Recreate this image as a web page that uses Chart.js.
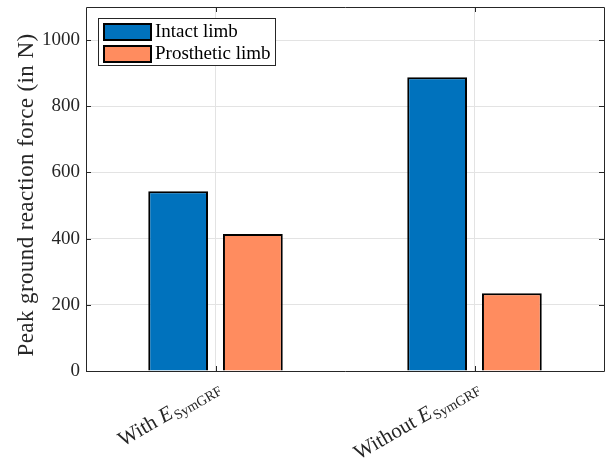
<!DOCTYPE html>
<html>
<head>
<meta charset="utf-8">
<script src="https://cdn.jsdelivr.net/npm/chart.js@4"></script>
<style>
  html, body { margin: 0; padding: 0; background: #ffffff; }
  #wrap { width: 611px; height: 469px; }
</style>
</head>
<body>
<div id="wrap"><canvas id="c" width="611" height="469"></canvas></div>
<script>
// Peak ground reaction force per limb, with and without the symmetry term
const categories = ['With E_SymGRF', 'Without E_SymGRF'];
const seriesNames = ['Intact limb', 'Prosthetic limb'];
const intactLimb = [543, 888];
const prostheticLimb = [414, 235];
const yTicks = [0, 200, 400, 600, 800, 1000];
const yAxisTitle = 'Peak ground reaction force (in N)';

const SERIF = '"Liberation Serif", "DejaVu Serif", serif';
const INK = '#262626';
const COLORS = ['#0072BD', '#FF8C5F'];

// Axes box, inward tick marks, axis title, legend and the mixed-style category labels
const decorations = {
  id: 'decorations',
  afterDraw(chart) {
    const { ctx, chartArea: a, scales } = chart;
    const L = a.left, R = a.right, T = a.top, B = a.bottom;
    ctx.save();

    // box
    ctx.strokeStyle = INK;
    ctx.lineWidth = 1;
    ctx.beginPath();
    ctx.moveTo(L + 0.5, B + 0.5); ctx.lineTo(L + 0.5, T + 0.5);
    ctx.lineTo(R + 0.5, T + 0.5); ctx.lineTo(R + 0.5, B + 0.5);
    ctx.lineTo(L + 0.5, B + 0.5);
    ctx.stroke();

    // inward ticks
    const tl = 5;
    ctx.beginPath();
    yTicks.forEach(v => {
      const y = Math.round(scales.y.getPixelForValue(v)) + 0.5;
      ctx.moveTo(L, y); ctx.lineTo(L + tl, y);
      ctx.moveTo(R, y); ctx.lineTo(R - tl, y);
    });
    categories.forEach((c, i) => {
      const x = Math.round(scales.x.getPixelForTick(i)) + 0.5;
      ctx.moveTo(x, B); ctx.lineTo(x, B - tl);
      ctx.moveTo(x, T); ctx.lineTo(x, T + tl);
    });
    ctx.stroke();

    // y-axis title
    ctx.save();
    ctx.translate(33, (T + B) / 2 + 6);
    ctx.rotate(-Math.PI / 2);
    ctx.font = '23px ' + SERIF;
    ctx.letterSpacing = '0.4px';
    ctx.fillStyle = INK;
    ctx.textAlign = 'center';
    ctx.textBaseline = 'alphabetic';
    ctx.fillText(yAxisTitle, 0, 0);
    ctx.restore();

    // legend
    const lx = L + 12, ly = T + 11;
    ctx.fillStyle = '#ffffff';
    ctx.fillRect(lx, ly, 177, 47);
    ctx.strokeStyle = INK;
    ctx.lineWidth = 1;
    ctx.strokeRect(lx + 0.5, ly + 0.5, 177, 47);
    seriesNames.forEach((name, i) => {
      const sy = ly + 6 + i * 22;
      ctx.fillStyle = COLORS[i];
      ctx.fillRect(lx + 6, sy, 47, 16);
      ctx.strokeStyle = '#000000';
      ctx.lineWidth = 2;
      ctx.strokeRect(lx + 6, sy, 47, 16);
      ctx.fillStyle = '#000000';
      ctx.font = '19px ' + SERIF;
      ctx.textBaseline = 'middle';
      ctx.textAlign = 'left';
      ctx.fillText(name, lx + 57, sy + 8);
    });

    // rotated category labels: "With E_{SymGRF}"
    categories.forEach((label, i) => {
      const parts = label.split(' E_');
      const main = parts[0] + ' ';
      const sym = 'E';
      const sub = parts[1];
      const fMain = '21px ' + SERIF;
      const fSym = 'italic 21px ' + SERIF;
      const fSub = '14px ' + SERIF;
      ctx.font = fMain; const w1 = ctx.measureText(main).width;
      ctx.font = fSym; const w2 = ctx.measureText(sym).width;
      ctx.font = fSub; const w3 = ctx.measureText(sub).width;
      const total = w1 + w2 + 1 + w3;
      const x = scales.x.getPixelForTick(i) + 2;
      const y = B + 13;
      ctx.save();
      ctx.translate(x, y);
      ctx.rotate(-30 * Math.PI / 180);
      ctx.fillStyle = INK;
      ctx.textAlign = 'left';
      ctx.textBaseline = 'alphabetic';
      let cx = -total;
      const base = 7;
      ctx.font = fMain; ctx.fillText(main, cx, base); cx += w1;
      ctx.font = fSym; ctx.fillText(sym, cx, base); cx += w2 + 1;
      ctx.font = fSub; ctx.fillText(sub, cx, base + 4);
      ctx.restore();
    });

    ctx.restore();
  }
};

new Chart(document.getElementById('c'), {
  type: 'bar',
  data: {
    labels: categories,
    datasets: [
      { label: seriesNames[0], data: intactLimb, backgroundColor: COLORS[0],
        borderColor: '#000000', borderWidth: 2 },
      { label: seriesNames[1], data: prostheticLimb, backgroundColor: COLORS[1],
        borderColor: '#000000', borderWidth: 2 }
    ]
  },
  options: {
    responsive: false,
    devicePixelRatio: 1,
    animation: false,
    layout: { padding: { left: 0, top: 7, right: 7, bottom: 0 } },
    plugins: {
      legend: { display: false },
      tooltip: { enabled: false }
    },
    datasets: {
      bar: { categoryPercentage: 0.577, barPercentage: 0.8 }
    },
    scales: {
      x: {
        type: 'category',
        offset: true,
        grid: { offset: false, color: '#e3e3e3', drawTicks: false },
        border: { display: false },
        ticks: { display: false },
        afterFit(scale) { scale.height = 98; }
      },
      y: {
        min: 0,
        max: 1100,
        afterBuildTicks(scale) {
          scale.ticks = yTicks.map(v => ({ value: v }));
        },
        grid: { color: '#e3e3e3', drawTicks: false },
        border: { display: false },
        ticks: {
          color: INK,
          padding: 6,
          font: { family: SERIF, size: 19 },
          callback: (v) => String(v)
        },
        title: { display: false },
        afterFit(scale) {
          scale.width = 86;
          scale.paddingTop = 0;
          scale.paddingBottom = 0;
        }
      }
    }
  },
  plugins: [decorations]
});
</script>
</body>
</html>
